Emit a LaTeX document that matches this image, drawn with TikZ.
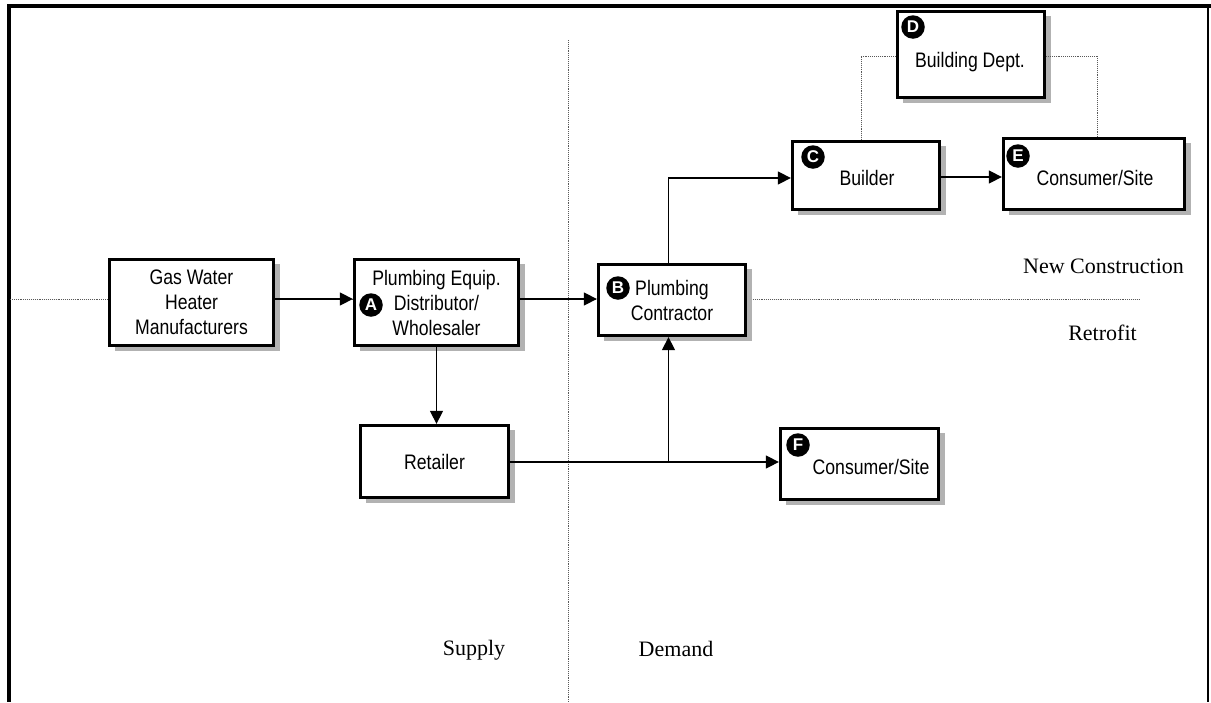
\documentclass[tikz,border=0pt]{standalone}
\usepackage{fontspec}
\setmainfont{Liberation Serif}
\newfontfamily\boxfont[FakeStretch=0.84]{Liberation Sans}
\newfontfamily\badgefont{Liberation Sans}
\usetikzlibrary{arrows.meta,shadows}

\begin{document}
\begin{tikzpicture}[x=1pt,y=-1pt,
  box/.style={draw, line width=2.8pt, fill=white, inner sep=0pt,
    align=center, font=\boxfont\fontsize{21}{25}\selectfont,
    drop shadow={shadow xshift=6pt, shadow yshift=-5pt, fill=black!30, opacity=1}},
  boxtext/.style={font=\boxfont\fontsize{21}{25}\selectfont, inner sep=0pt, anchor=base},
  badge/.style={circle, fill=black, text=white, minimum size=23.5pt, inner sep=0pt,
    font=\badgefont\bfseries\fontsize{17}{17}\selectfont},
  flow/.style={line width=1.4pt, -{Triangle[length=13pt,width=13pt]}},
  link/.style={line width=1.4pt},
  divider/.style={densely dotted, line width=0.9pt, black!65},
  region/.style={font=\fontsize{22}{26}\selectfont, inner sep=0pt, anchor=base},
  frame/.style={line width=4pt}
]
\useasboundingbox (0,0) rectangle (1211,702);

% outer frame
\draw[frame] (7,6) -- (1211,6);
\draw[frame] (9,4) -- (9,702);
\draw[line width=1.5pt] (1208,6) -- (1208,702);

% supply/demand and new construction/retrofit dividers
\coordinate (hdivL) at (10,299);
\coordinate (hdivR) at (1140,299);
\coordinate (vdivT) at (568,40);
\coordinate (vdivB) at (568,702);
\draw[divider] (hdivL) -- (hdivR);
\draw[divider] (vdivT) -- (vdivB);

% boxes
\node[box, minimum width=164.5pt, minimum height=86.5pt] (gas) at (191.5,302.5)
  {Gas Water\\Heater\\Manufacturers};
\node[box, minimum width=164.5pt, minimum height=86.5pt] (dist) at (436.5,302.5)
  {Plumbing Equip.\\Distributor/\\Wholesaler};
\node[box, minimum width=147.5pt, minimum height=71.5pt] (contr) at (672,300)
  {Plumbing\\Contractor};
\node[box, minimum width=148.5pt, minimum height=72.5pt] (ret) at (434.5,461.5)
  {Retailer};
\node[box, minimum width=158.5pt, minimum height=71.5pt] (consF) at (859.5,464) {};
\node[box, minimum width=147.5pt, minimum height=86.5pt] (dept) at (971,54.5) {};
\node[box, minimum width=147.5pt, minimum height=68.5pt] (builder) at (866,175.5) {};
\node[box, minimum width=181.5pt, minimum height=71.5pt] (consE) at (1094,174) {};

% box captions set off-centre
\node[boxtext] (consFtext) at (871,474) {Consumer/Site};
\node[boxtext] (depttext) at (970,67) {Building Dept.};
\node[boxtext] (buildertext) at (867,185) {Builder};
\node[boxtext] (consEtext) at (1095,185) {Consumer/Site};

% lettered badges
\node[badge] (bA) at (371,305) {A};
\node[badge] (bB) at (618,288) {B};
\node[badge] (bC) at (813,157) {C};
\node[badge] (bD) at (913,27) {D};
\node[badge] (bE) at (1018,156) {E};
\node[badge] (bF) at (798,445) {F};

% supply chain flows
\draw[flow] (gas.east |- 0,299) -- (dist.west |- 0,299);
\draw[flow] (dist.east |- 0,299) -- (contr.west |- 0,299);
\draw[flow] (dist.south) -- (dist.south |- ret.north);
\coordinate (junction) at (668.5,462);
\draw[flow] (ret.east |- junction) -- (consF.west |- junction);
\draw[flow] (junction) -- (junction |- contr.south);
\draw[flow] (junction |- contr.north) |- (builder.west |- 0,178);
\draw[flow] (builder.east |- 0,177) -- (consE.west |- 0,177);

% building department oversight
\draw[divider] (builder.north -| 861,0) |- (dept.west |- 0,56);
\draw[divider] (dept.east |- 0,56) -| (consE.north -| 1097,0);

% region labels
\node[region] (newcon) at (1103.5,273) {New Construction};
\node[region] (retro) at (1102.5,340) {Retrofit};
\node[region] (supply) at (474,655) {Supply};
\node[region] (demand) at (676,656) {Demand};
\end{tikzpicture}
\end{document}
